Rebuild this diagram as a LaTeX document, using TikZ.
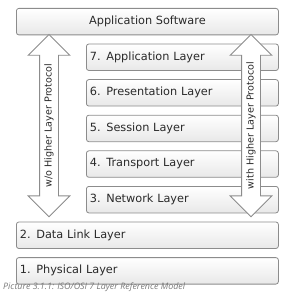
\documentclass[tikz,border=0pt]{standalone}
\usepackage{fontspec}
\setmainfont{DejaVu Sans}
\newfontfamily\capfont{Open Sans}
\usetikzlibrary{positioning,shapes.arrows}
\definecolor{boxline}{HTML}{8C8C8C}
\definecolor{boxtext}{HTML}{2A2A2A}
\definecolor{capgray}{HTML}{7A7A7A}
\tikzset{
  layerbox/.style={draw=boxline,line width=0.8pt,rounded corners=2.5pt,
    top color=white,bottom color=gray!18,minimum height=26.5pt,
    inner xsep=3.5pt,text=boxtext,font=\fontsize{11.3}{13}\selectfont},
  wide/.style={layerbox,minimum width=262pt,text width=255pt,align=left},
  narrow/.style={layerbox,minimum width=192pt,text width=185pt,align=left},
  protoarrow/.style={double arrow,draw=boxline,line width=0.8pt,fill=white,
    rotate=90,minimum height=182.3pt,double arrow head extend=11.5pt,
    double arrow tip angle=90,text height=7pt,text depth=2pt,inner ysep=4.5pt,
    inner xsep=0pt,text=boxtext,font=\fontsize{9.6}{11}\selectfont}
}
\begin{document}
\begin{tikzpicture}[x=1pt,y=-1pt,node distance=8.3pt]
\useasboundingbox (0,0) rectangle (294,299);
% stack of layers
\node[layerbox,minimum width=262pt,anchor=north west] (app) at (16,8) {Application Software};
\node[narrow,below=8.3pt of app.south east,anchor=north east] (l7) {7. Application Layer};
\node[narrow,below=of l7] (l6) {6. Presentation Layer};
\node[narrow,below=of l6] (l5) {5. Session Layer};
\node[narrow,below=of l5] (l4) {4. Transport Layer};
\node[narrow,below=of l4] (l3) {3. Network Layer};
\node[wide,below=8.3pt of l3.south east,anchor=north east] (l2) {2. Data Link Layer};
\node[wide,below=of l2] (l1) {1. Physical Layer};
% protocol arrows
\node[protoarrow] (without) at (49,125.6) {w/o Higher Layer Protocol};
\node[protoarrow] (with) at (251,125.6) {with Higher Layer Protocol};
\node[anchor=west,inner sep=0pt,text=capgray,font=\capfont\itshape\fontsize{8.9}{10}\selectfont] (caption) at (3,287)
  {Picture 3.1.1: ISO/OSI 7 Layer Reference Model};
\end{tikzpicture}
\end{document}
